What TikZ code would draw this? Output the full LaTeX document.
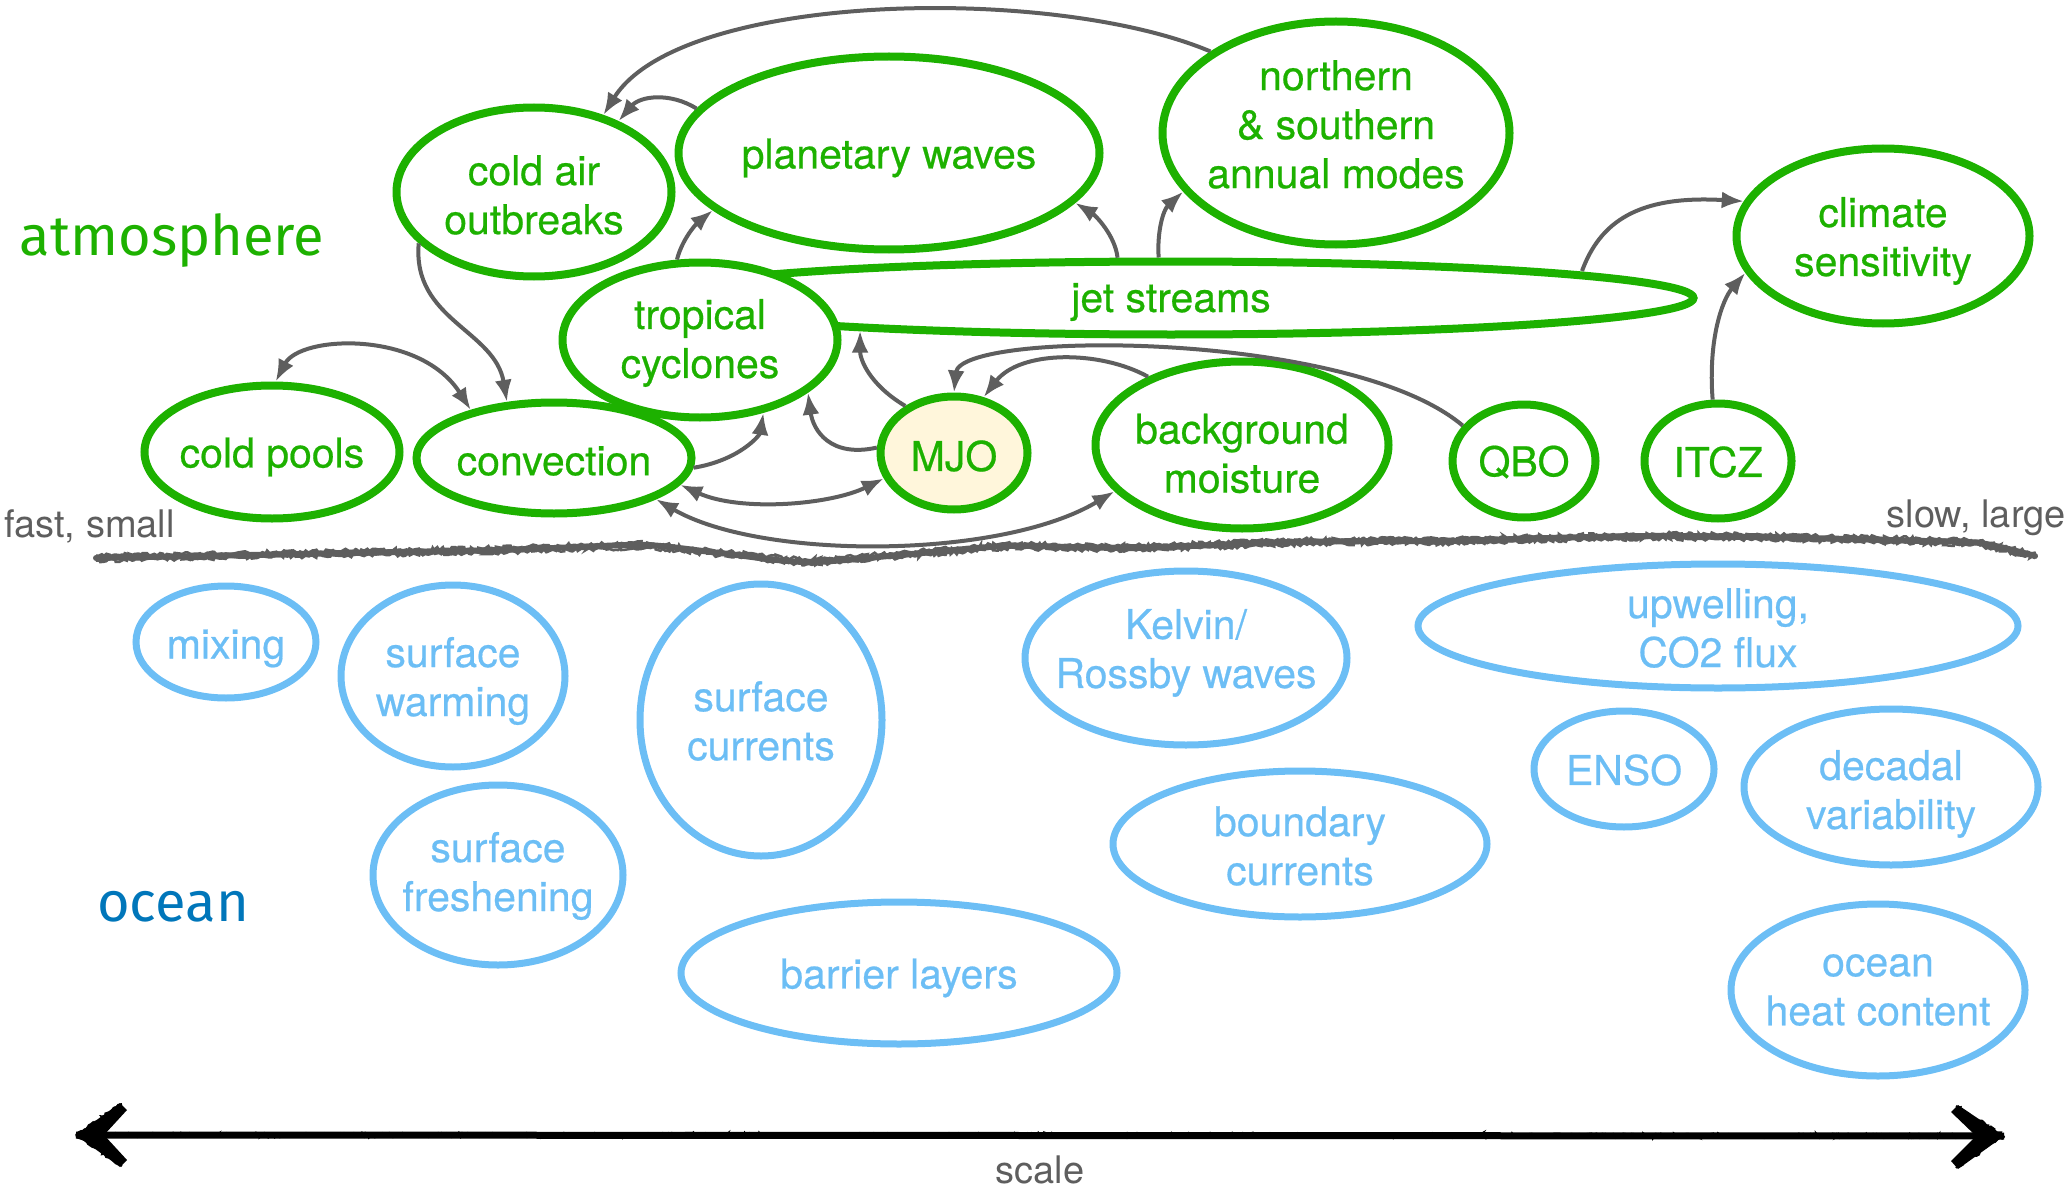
\documentclass[tikz,border=0pt]{standalone}
\usepackage{fontspec}
\setmainfont{TeX Gyre Heros}
\newfontfamily\nodefont[FakeBold=0.5]{TeX Gyre Heros}
\newfontfamily\handfont{Fira Sans}
\usetikzlibrary{shapes.geometric,arrows.meta,decorations.pathmorphing,calc}
\definecolor{atmgreen}{RGB}{29,177,0}
\definecolor{seablue}{RGB}{108,190,245}
\definecolor{mjofill}{RGB}{255,246,219}
\definecolor{linkgray}{RGB}{94,94,94}
\definecolor{handblue}{RGB}{0,118,186}
\begin{document}
\begin{tikzpicture}[x=1pt,y=-1pt,
  atm/.style={ellipse, draw=atmgreen, line width=8pt, fill=white, inner sep=0pt, outer sep=4pt},
  sea/.style={ellipse, draw=seablue, line width=7pt, inner sep=0pt, outer sep=3.5pt},
  atmtext/.style={text=atmgreen, font=\nodefont\fontsize{41}{49}\selectfont, align=center, inner sep=0pt},
  seatext/.style={text=seablue, font=\nodefont\fontsize{41}{49}\selectfont, align=center, inner sep=0pt},
  note/.style={text=linkgray, font=\fontsize{38}{44}\selectfont, inner sep=0pt},
  hand/.style={font=\handfont\fontsize{56}{60}\selectfont, inner sep=0pt, anchor=base},
  link/.style={draw=linkgray, line width=4pt, -{Latex[length=22pt,width=17pt]}},
  twoway/.style={draw=linkgray, line width=4pt, {Latex[length=22pt,width=17pt]}-{Latex[length=22pt,width=17pt]}},
  rough/.style={decorate, decoration={random steps, segment length=2.5pt, amplitude=1.8pt}},
]
\useasboundingbox (0,0) rectangle (2072,1193);

% ---------- atmosphere ----------
\node[atm, minimum width=1045pt, minimum height=73pt,
  label={[atmtext,yshift=-4pt]center:jet streams}] (jet) at (1171,298) {};
\node[atm, minimum width=275pt, minimum height=169pt,
  label={[atmtext,yshift=-3pt]center:{cold air\\outbreaks}}] (cao) at (534,192) {};
\node[atm, minimum width=421pt, minimum height=193pt,
  label={[atmtext,yshift=-5pt]center:planetary waves}] (pw) at (889,153) {};
\node[atm, minimum width=347pt, minimum height=223pt,
  label={[atmtext,yshift=8.5pt]center:{northern\\\& southern\\annual modes}}] (nsam) at (1336,133) {};
\node[atm, minimum width=293pt, minimum height=175pt,
  label={[atmtext,yshift=-5pt]center:{climate\\sensitivity}}] (cs) at (1883,236) {};
\node[atm, minimum width=275pt, minimum height=155pt,
  label={[atmtext,yshift=-3pt]center:{tropical\\cyclones}}] (tc) at (700,340) {};
\node[atm, minimum width=255pt, minimum height=133pt,
  label={[atmtext,yshift=-5pt]center:cold pools}] (cp) at (272,452) {};
\node[atm, minimum width=275pt, minimum height=111pt,
  label={[atmtext,yshift=-3pt]center:convection}] (conv) at (554,458) {};
\node[atm, fill=mjofill, minimum width=147pt, minimum height=113pt,
  label={[atmtext,yshift=-3pt]center:MJO}] (mjo) at (954,453) {};
\node[atm, minimum width=293pt, minimum height=167pt,
  label={[atmtext,yshift=-8.5pt]center:{background\\moisture}}] (bm) at (1242,445) {};
\node[atm, minimum width=143pt, minimum height=113pt,
  label={[atmtext,yshift=-1pt]center:QBO}] (qbo) at (1524,461) {};
\node[atm, minimum width=147pt, minimum height=115pt,
  label={[atmtext,yshift=-1pt]center:ITCZ}] (itcz) at (1718,461) {};

% point on the upper rim of the flat jet-stream ellipse
\coordinate (jetrim) at ($(jet.center)+(411,-27)$);

% ---------- links ----------
\draw[link] (nsam.147) .. controls (1050,-16) and (680,-8) .. (cao.48);
\draw[link] (pw.167) .. controls (670,92) and (640,96) .. (cao.40);
\draw[link] (tc.106) .. controls (682,240) and (695,225) .. (pw.198);
\draw[link] (jet.143) .. controls (1115,235) and (1095,215) .. (pw.-15);
\draw[link] (jet.107) .. controls (1157,232) and (1163,210) .. (nsam.201);
\draw[link] (jetrim) .. controls (1600,222) and (1638,195) .. (cs.166);
\draw[link] (itcz.95) .. controls (1708,340) and (1722,300) .. (cs.195);
\draw[link] (cao.204) .. controls (412,320) and (495,330) .. (conv.130);
\draw[twoway] (cp.87) .. controls (300,335) and (420,330) .. (conv.150);
\draw[link] (conv.-4) .. controls (740,460) and (760,435) .. (tc.-49);
\draw[twoway] (conv.-12) .. controls (740,512) and (830,505) .. (mjo.200);
\draw[twoway] (conv.-22) .. controls (760,560) and (1000,560) .. (bm.200);
\draw[link] (mjo.176) .. controls (830,458) and (813,430) .. (tc.-26);
\draw[link] (mjo.136) .. controls (870,385) and (860,360) .. (jet.186);
\draw[link] (qbo.150) .. controls (1350,330) and (960,330) .. (mjo.90);
\draw[link] (bm.144) .. controls (1100,350) and (1020,350) .. (mjo.62);

% ---------- ocean ----------
\node[sea, minimum width=180pt, minimum height=112pt,
  label={[seatext,yshift=-6.5pt]center:mixing}] (mix) at (226,642) {};
\node[sea, minimum width=224pt, minimum height=182pt,
  label={[seatext,yshift=-5pt]center:{surface\\warming}}] (warm) at (453,676) {};
\node[sea, minimum width=242pt, minimum height=272pt,
  label={[seatext,yshift=-1pt]center:{surface\\currents}}] (scur) at (761,720) {};
\node[sea, minimum width=322pt, minimum height=174pt,
  label={[seatext,yshift=5pt]center:{Kelvin/\\Rossby waves}}] (kr) at (1186,658) {};
\node[sea, minimum width=600pt, minimum height=124pt,
  label={[seatext,yshift=-2pt]center:{upwelling,\\CO2 flux}}] (upw) at (1718,626) {};
\node[sea, minimum width=180pt, minimum height=116pt,
  label={[seatext,yshift=-1pt]center:ENSO}] (enso) at (1624,769) {};
\node[sea, minimum width=294pt, minimum height=156pt,
  label={[seatext,yshift=-7pt]center:{decadal\\variability}}] (dec) at (1891,787) {};
\node[sea, minimum width=250pt, minimum height=180pt,
  label={[seatext,yshift=-1pt]center:{surface\\freshening}}] (fresh) at (498,875) {};
\node[sea, minimum width=374pt, minimum height=146pt,
  label={[seatext,yshift=-2pt]center:{boundary\\currents}}] (bcur) at (1300,844) {};
\node[sea, minimum width=436pt, minimum height=142pt,
  label={[seatext,yshift=-5pt]center:barrier layers}] (bar) at (899,973) {};
\node[sea, minimum width=294pt, minimum height=172pt,
  label={[seatext]center:{ocean\\heat content}}] (ohc) at (1878,990) {};

% ---------- side labels ----------
\node[hand, text=atmgreen] (atmlabel) at (172,255) {atmosphere};
\node[hand, text=handblue] (oceanlabel) at (173,921) {ocean};
\node[note, anchor=west] (fast) at (4,526) {fast, small};
\node[note, anchor=east] (slow) at (2066,518) {slow, large};

% ---------- boundary between atmosphere and ocean ----------
\def\seamline{(96,558) (200,556) (300,554) (400,552) (500,550) (580,547) (647,545) (720,553) (806,562) (900,555) (1004,546) (1070,547) (1136,548) (1215,545) (1295,542) (1375,541) (1453,541) (1550,538) (1652,536) (1750,537) (1850,539) (1920,541) (1980,543) (2035,556)}
\draw[linkgray, line width=6pt, line cap=round] plot[smooth] coordinates \seamline;
\draw[linkgray, line width=2.5pt, rough, yshift=2.5pt] plot[sharp plot] coordinates \seamline;
\draw[linkgray, line width=2.5pt, rough, yshift=-2.5pt] plot[sharp plot] coordinates \seamline;

% ---------- scale axis ----------
\coordinate (sl) at (76,1135);
\coordinate (sm) at (1040,1135);
\coordinate (sr) at (2004,1136);
\draw[black, line width=7pt] (sl) -- (sr);
\draw[black, line width=2.5pt, rough, yshift=3pt] (sl) -- (sm) -- (sr);
\draw[black, line width=2.5pt, rough, yshift=-3pt] (sl) -- (sm) -- (sr);
% barbed heads at both ends
\fill[black] (sl) -- (120,1103) -- (127,1110) -- (104,1135) -- (127,1160) -- (120,1167) -- cycle;
\draw[black, line width=2pt, rough] (sl) -- (122,1104) (sl) -- (122,1166);
\fill[black] (sr) -- (1958,1105) -- (1951,1112) -- (1976,1136) -- (1951,1161) -- (1958,1169) -- cycle;
\draw[black, line width=2pt, rough] (sr) -- (1956,1106) (sr) -- (1956,1168);
\node[note] (scalelabel) at (1040,1170) {scale};
\end{tikzpicture}
\end{document}
